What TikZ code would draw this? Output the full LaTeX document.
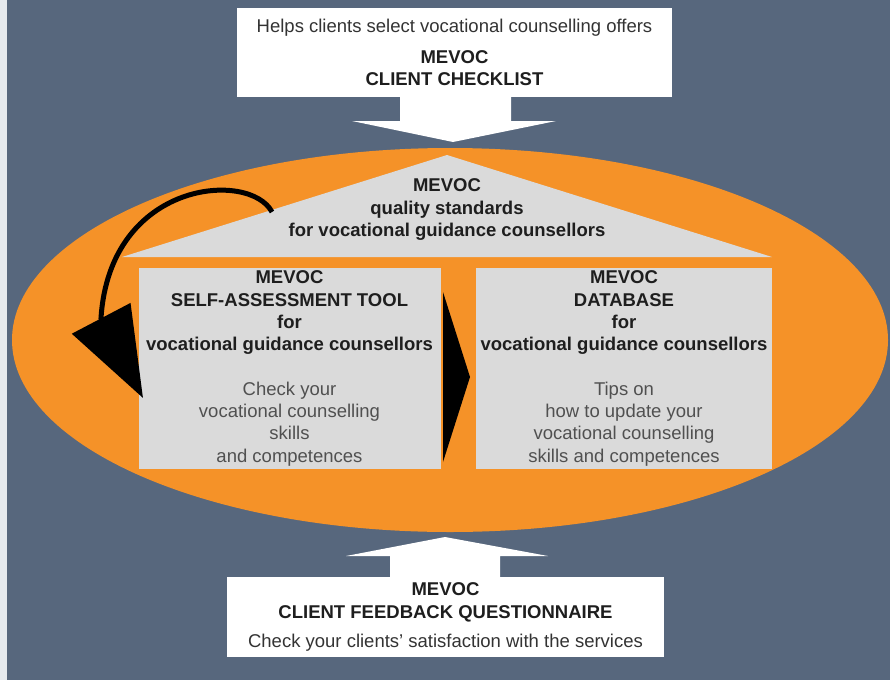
\documentclass[tikz,border=0pt]{standalone}
\usepackage{fontspec}
\setmainfont{Liberation Sans}
\usetikzlibrary{arrows.meta}

\definecolor{slate}{RGB}{87,103,125}
\definecolor{stripe}{RGB}{230,234,238}
\definecolor{mevocorange}{RGB}{245,146,40}
\definecolor{boxgray}{RGB}{218,218,218}
\definecolor{txtgray}{RGB}{80,80,80}
\definecolor{headdark}{RGB}{30,30,30}

\newcommand{\mvhead}[1]{\textcolor{headdark}{\textbf{#1}}}

\begin{document}
\begin{tikzpicture}[x=1pt, y=-1pt,
  mvtext/.style={align=center, inner sep=0pt, text=txtgray, font=\fontsize{18.5}{22.3}\selectfont},
  whitebox/.style={mvtext, rectangle, fill=white},
  graybox/.style={mvtext, rectangle, fill=boxgray, minimum width=302pt, minimum height=201pt}]
\useasboundingbox (0,0) rectangle (890,680);
\fill[slate] (0,0) rectangle (890,680);
\fill[stripe] (0,0) rectangle (7,680);

% orange ellipse
\fill[mevocorange] (450,340) ellipse [x radius=438, y radius=192];

% white block arrows
\fill[white] (400,96) -- (511,96) -- (511,121) -- (556,121) -- (453,142) -- (352,121) -- (400,121) -- cycle;
\fill[white] (390,578) -- (500,578) -- (500,556) -- (548,556) -- (445,537) -- (346,556) -- (390,556) -- cycle;

\node[whitebox, minimum width=435pt, minimum height=89pt] (checklist) at (454.5,52.5)
  {\textcolor{black!80}{Helps clients select vocational counselling offers}\\[8pt]
   \mvhead{MEVOC}\\ \mvhead{CLIENT CHECKLIST}};
\node[whitebox, minimum width=437pt, minimum height=80pt] (feedback) at (445.5,617)
  {\mvhead{MEVOC}\\ \mvhead{CLIENT FEEDBACK QUESTIONNAIRE}\\[7pt]
   \textcolor{black!80}{Check your clients' satisfaction with the services}};

% roof with the standards
\fill[boxgray] (122,257) -- (447,155) -- (772,257) -- cycle;
\node[mvtext] (standards) at (447,209.5)
  {\mvhead{MEVOC}\\ \mvhead{quality standards}\\ \mvhead{for vocational guidance counsellors}};

\node[graybox] (selftool) at (289.5,368.5)
  {\mvhead{MEVOC}\\ \mvhead{SELF-ASSESSMENT TOOL}\\ \mvhead{for}\\
   \mvhead{vocational guidance counsellors}\\[22.3pt]
   Check your\\ vocational counselling\\ skills\\ and competences};
\node[graybox, minimum width=296pt] (database) at (624,368.5)
  {\mvhead{MEVOC}\\ \mvhead{DATABASE}\\ \mvhead{for}\\
   \mvhead{vocational guidance counsellors}\\[22.3pt]
   Tips on\\ how to update your\\ vocational counselling\\ skills and competences};

% black arrows
\fill[black] (443,292) -- (470,377) -- (443,462) -- cycle;
\coordinate (bendstart) at (272,212);
\coordinate (bendbase) at (101,318);
\coordinate (selfin) at (143,398);
\draw[line width=5pt, -{Triangle[length=90pt, width=65pt]}] (bendstart) .. controls (250,170) and (110,180) .. (bendbase) -- (selfin);

\end{tikzpicture}
\end{document}
